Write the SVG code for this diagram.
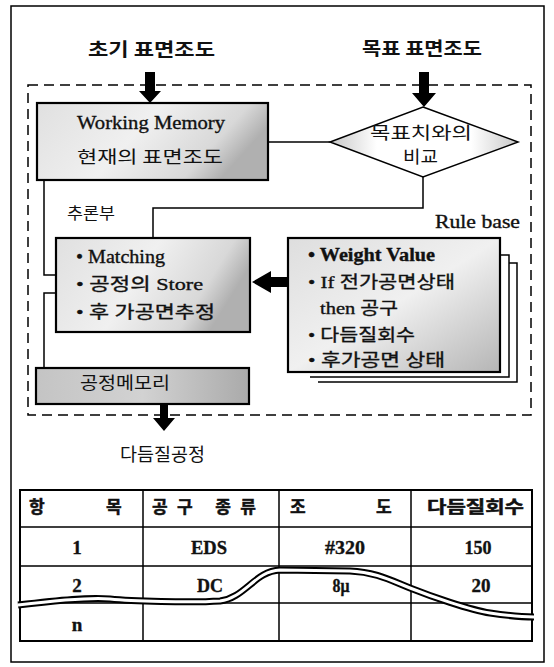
<svg xmlns="http://www.w3.org/2000/svg" width="554" height="667" viewBox="0 0 554 667">
<defs>
<style>
.ln{fill:none;stroke:#000;stroke-width:1.5}
.bx{stroke:#000;stroke-width:2.2}
.kr{font-family:"Noto Sans CJK KR","Liberation Serif",sans-serif;fill:#111}
.sr{font-family:"Liberation Serif","Noto Sans CJK KR",serif;fill:#111;stroke:#111;stroke-width:0.35}
.tl{font-size:18px;font-weight:bold}
.hd{font-weight:bold;stroke:#111;stroke-width:0.5}
</style>
<linearGradient id="g1" x1="0" y1="0" x2="1" y2="0.3">
<stop offset="0" stop-color="#e0e0e0"/>
<stop offset="0.5" stop-color="#f0f0f0"/>
<stop offset="0.85" stop-color="#d8d8d8"/>
<stop offset="1" stop-color="#b0b0b0"/>
</linearGradient>
<linearGradient id="g2" x1="0" y1="0" x2="1" y2="0">
<stop offset="0" stop-color="#c4c4c4"/>
<stop offset="0.5" stop-color="#d2d2d2"/>
<stop offset="1" stop-color="#aaaaaa"/>
</linearGradient>
<linearGradient id="g3" x1="0" y1="0" x2="1" y2="0">
<stop offset="0" stop-color="#c8c8c8"/>
<stop offset="0.25" stop-color="#ffffff"/>
<stop offset="0.75" stop-color="#ffffff"/>
<stop offset="1" stop-color="#c8c8c8"/>
</linearGradient>
<linearGradient id="g4" x1="0" y1="0" x2="1" y2="1">
<stop offset="0" stop-color="#dedede"/>
<stop offset="0.5" stop-color="#f0f0f0"/>
<stop offset="1" stop-color="#b5b5b5"/>
</linearGradient>
</defs>
<rect width="554" height="667" fill="#fff"/>
<rect x="11" y="6" width="533" height="656" class="ln"/>
<rect x="28" y="85" width="503" height="330" fill="none" stroke="#000" stroke-width="1.5" stroke-dasharray="10,6"/>

<g id="title-initial"><text x="88" y="56" class="kr tl" textLength="127" lengthAdjust="spacingAndGlyphs">초기 표면조도</text></g>
<g id="title-target"><text x="362" y="55" class="kr tl" textLength="120" lengthAdjust="spacingAndGlyphs">목표 표면조도</text></g>

<g id="connectors">
<path d="M268,142 H330" class="ln"/>
<path d="M423,177 V208 H153 V238" class="ln"/>
<path d="M44,180 V275 H56" class="ln"/>
<path d="M56,293 H44 V368" class="ln"/>
<polygon points="145,72 155,72 155,91 161,91 150,103 139,91 145,91" fill="#000"/>
<polygon points="419,72 429,72 429,93 436,93 424,107 412,93 419,93" fill="#000"/>
<polygon points="160,404 168,404 168,418 175,418 164,431 153,418 160,418" fill="#000"/>
<polygon points="288,277 271,277 271,271 252,282 271,293 271,287 288,287" fill="#000"/>
</g>

<g id="working-memory">
<rect x="37" y="103" width="231" height="77" fill="url(#g1)" class="bx"/>
<text x="77" y="129" class="sr" font-size="19" textLength="148" lengthAdjust="spacingAndGlyphs">Working Memory</text>
<text x="77" y="163" class="kr" font-size="17" textLength="146" lengthAdjust="spacingAndGlyphs">현재의 표면조도</text>
</g>

<g id="compare">
<polygon points="423,107 518,142 423,177 330,142" fill="url(#g3)" stroke="#000" stroke-width="1.5"/>
<text x="370" y="139" class="kr" font-size="17" textLength="102" lengthAdjust="spacingAndGlyphs">목표치와의</text>
<text x="403" y="163" class="kr" font-size="17" textLength="35" lengthAdjust="spacingAndGlyphs">비교</text>
</g>

<g id="inference">
<text x="67" y="219" class="kr" font-size="16" textLength="48" lengthAdjust="spacingAndGlyphs">추론부</text>
<rect x="56" y="238" width="194" height="94" fill="url(#g1)" class="bx"/>
<text x="76" y="263" class="sr" font-size="18" textLength="89" lengthAdjust="spacingAndGlyphs">• Matching</text>
<text x="76" y="290" class="sr" font-size="17" textLength="127" lengthAdjust="spacingAndGlyphs">• 공정의 Store</text>
<text x="76" y="318" class="sr" font-size="17" textLength="139" lengthAdjust="spacingAndGlyphs">• 후 가공면추정</text>
</g>

<g id="rule-base">
<text x="435" y="228" class="sr" font-size="18" textLength="85" lengthAdjust="spacingAndGlyphs">Rule base</text>
<path d="M318,382 H517 V263 H509" class="ln"/>
<path d="M310,377 H509 V255 H500" class="ln"/>
<rect x="288" y="238" width="212" height="134" fill="url(#g4)" class="bx"/>
<text x="308" y="261" class="sr" font-size="18" font-weight="bold" textLength="127" lengthAdjust="spacingAndGlyphs">• Weight Value</text>
<text x="308" y="288" class="sr" font-size="17" textLength="147" lengthAdjust="spacingAndGlyphs">• If 전가공면상태</text>
<text x="320" y="314" class="sr" font-size="17" textLength="78" lengthAdjust="spacingAndGlyphs">then 공구</text>
<text x="308" y="341" class="sr" font-size="17" textLength="107" lengthAdjust="spacingAndGlyphs">• 다듬질회수</text>
<text x="308" y="366" class="sr" font-size="17" textLength="137" lengthAdjust="spacingAndGlyphs">• 후가공면 상태</text>
</g>

<g id="process-memory">
<rect x="36" y="368" width="213" height="36" fill="url(#g2)" class="bx"/>
<text x="80" y="389" class="kr" font-size="17" textLength="90" lengthAdjust="spacingAndGlyphs">공정메모리</text>
</g>

<g id="next-process"><text x="120" y="461" class="kr" font-size="18" textLength="85" lengthAdjust="spacingAndGlyphs">다듬질공정</text></g>

<g id="table">
<rect x="20" y="490" width="512" height="151" fill="none" stroke="#000" stroke-width="2"/>
<path d="M20,527 H532 M20,566 H532 M20,603 H532 M143,490 V641 M279,490 V641 M411,490 V641" class="ln"/>
<path d="M18,605 C60,600 90,597 110,599 S190,603 220,601 C245,598 255,571 280,570 L350,571 C375,572 390,580 410,588 S470,610 490,613 S520,617 534,617" fill="none" stroke="#000" stroke-width="7"/>
<path d="M18,605 C60,600 90,597 110,599 S190,603 220,601 C245,598 255,571 280,570 L350,571 C375,572 390,580 410,588 S470,610 490,613 S520,617 534,617" fill="none" stroke="#fff" stroke-width="3"/>
<g class="kr hd" font-size="17">
<text x="29" y="513">항</text>
<text x="106" y="513">목</text>
<text x="152" y="513" textLength="104" lengthAdjust="spacing">공구 종류</text>
<text x="290" y="513">조</text>
<text x="376" y="513">도</text>
<text x="427" y="513" textLength="97" lengthAdjust="spacingAndGlyphs">다듬질회수</text>
</g>
<g class="sr" font-size="19" font-weight="bold" text-anchor="middle">
<text x="77" y="554">1</text>
<text x="209" y="554" textLength="36" lengthAdjust="spacingAndGlyphs">EDS</text>
<text x="345" y="554" textLength="40" lengthAdjust="spacingAndGlyphs">#320</text>
<text x="478" y="554" textLength="27" lengthAdjust="spacingAndGlyphs">150</text>
<text x="77" y="592">2</text>
<text x="210" y="592" textLength="26" lengthAdjust="spacingAndGlyphs">DC</text>
<text x="341" y="592" textLength="17" lengthAdjust="spacingAndGlyphs">8μ</text>
<text x="481" y="592" textLength="19" lengthAdjust="spacingAndGlyphs">20</text>
<text x="77" y="631">n</text>
</g>
</g>
</svg>
